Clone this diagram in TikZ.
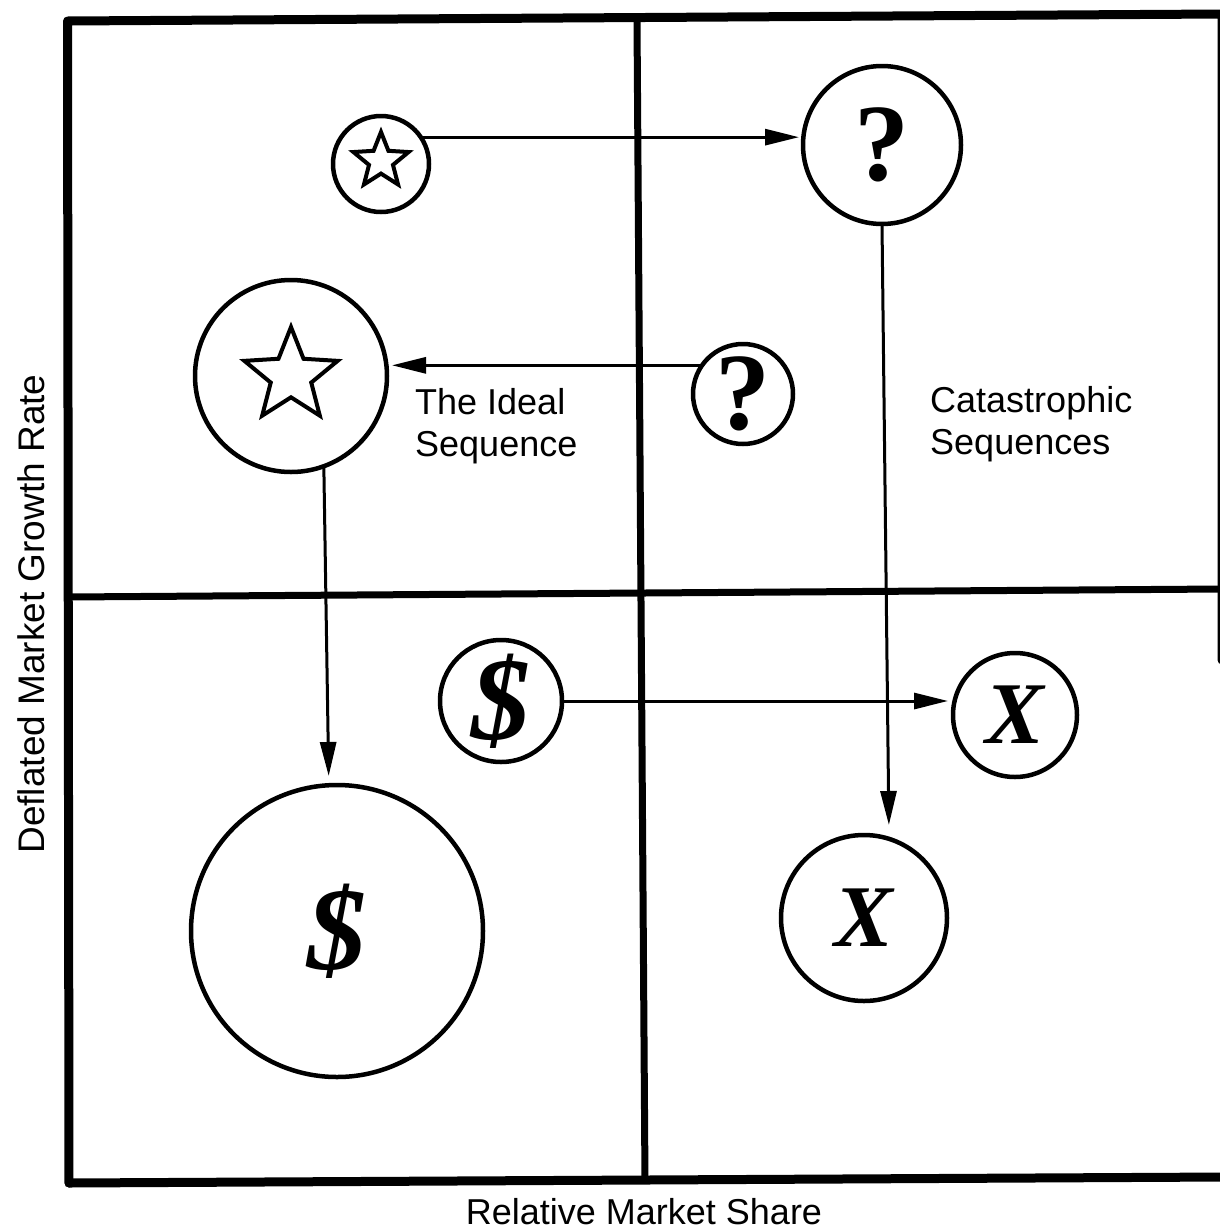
\documentclass[tikz,border=0pt]{standalone}
\usepackage{fontspec}
\setmainfont{Liberation Sans}
\newfontfamily\symfont{Liberation Serif}
\usetikzlibrary{shapes.geometric,arrows.meta}
\begin{document}
\begin{tikzpicture}[x=1pt,y=-1pt,
  frameline/.style={line width=9pt, line join=round, line cap=round},
  divider/.style={line width=7pt},
  ring/.style={circle, draw, line width=4.5pt, inner sep=0pt, outer sep=0pt},
  starsym/.style={star, star points=5, star point ratio=2.3, draw, line width=4pt, inner sep=0pt, outer sep=0pt},
  arr/.style={line width=3pt, -{Triangle[length=34pt,width=16pt]}},
  qmark/.style={font=\symfont\bfseries\fontsize{110}{110}\selectfont},
  dollar/.style={font=\symfont\bfseries\itshape\fontsize{118}{118}\selectfont},
  xmark/.style={font=\symfont\bfseries\itshape\fontsize{88}{88}\selectfont},
  lbl/.style={font=\fontsize{36}{42}\selectfont, inner sep=0pt, align=left},
]
\fill[white] (0,0) rectangle (1220,1232);
\useasboundingbox (0,0) rectangle (1220,1232);

% frame and quadrant dividers
\draw[frameline] (69,1183) -- (67.5,21) -- (1222,14) -- (1222,660);
\draw[frameline] (69,1183) -- (1225,1177);
\draw[divider] (637,21) -- (645,1183);
\draw[divider] (67,597) -- (1222,589);

% circles
\node[ring, minimum size=96] (s1) at (381,164) {};
\node[starsym, minimum size=58] (s1s) at (381,161) {};
\node[ring, qmark, minimum size=158] (q1) at (882,145) {?};
\node[ring, minimum size=192] (s2) at (291,376) {};
\node[starsym, minimum size=98] (s2s) at (s2) {};
\node[ring, qmark, minimum size=100] (q2) at (743,394) {?};
\node[ring, dollar, minimum size=122] (d1) at (501,701) {\$};
\node[ring, xmark, minimum size=124] (x1) at (1015,715) {X};
\node[ring, dollar, minimum size=292] (d2) at (337,931) {\$};
\node[ring, xmark, minimum size=166] (x2) at (864,918) {X};

% arrows
\draw[arr, shorten >=4pt] (s1.34) -- (s1.34 -| q1.west);
\draw[arr, shorten >=5pt] (q2.145) -- (q2.145 -| s2.east);
\draw[arr, shorten >=9pt] (s2.-70) -- ([xshift=5pt]s2.-70 |- d2.north);
\draw[arr, shorten >=10pt] (q1.south) -- ([xshift=7pt]q1.south |- x2.north);
\draw[arr, shorten >=5pt] (d1.east) -- (d1.east -| x1.west);

% labels
\node[lbl, anchor=north west] (ideal) at (415,388) {The Ideal\\Sequence};
\node[lbl, anchor=north west] (cat) at (930,386) {Catastrophic\\Sequences};
\node[lbl, anchor=base] (xaxis) at (644,1224) {Relative Market Share};
\node[lbl, anchor=base, rotate=90, font=\fontsize{37}{42}\selectfont] (yaxis) at (44,614) {Deflated Market Growth Rate};
\end{tikzpicture}
\end{document}
